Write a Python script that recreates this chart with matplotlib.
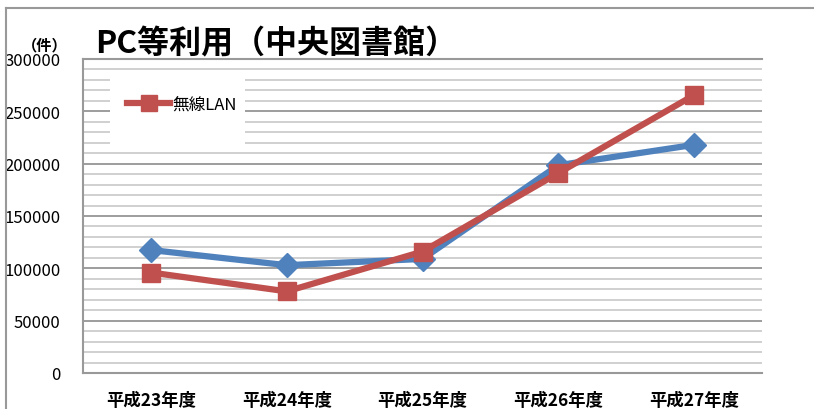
import matplotlib
matplotlib.use("Agg")
import matplotlib.pyplot as plt
from matplotlib.patches import Rectangle
from matplotlib.lines import Line2D
import numpy as np

plt.rcParams['font.family'] = ['Noto Sans CJK JP', 'DejaVu Sans']

categories = ["平成23年度", "平成24年度", "平成25年度", "平成26年度", "平成27年度"]
wireless_lan = [96000, 78000, 116000, 191000, 265500]
other_series = [117500, 103000, 109000, 198500, 218000]
yticks = [0, 50000, 100000, 150000, 200000, 250000, 300000]

red = "#C0504D"
blue = "#4F81BD"

fig = plt.figure(figsize=(8.14, 4.10), dpi=100)
# outer chart frame (left & top visible)
fig.add_artist(Line2D([6/814, 6/814], [0, 1 - 9/410], transform=fig.transFigure, color="#999999", lw=1.5))
fig.add_artist(Line2D([6/814, 1], [1 - 9/410, 1 - 9/410], transform=fig.transFigure, color="#999999", lw=1.5))

ax = fig.add_axes([83/814, 36/410, 679/814, 314/410])
x = np.arange(len(categories))

ax.set_ylim(0, 300000)
ax.set_xlim(-0.5, len(categories) - 0.5)
ax.set_yticks(yticks)
ax.set_yticklabels([str(v) for v in yticks], fontsize=12)
ax.set_yticks(np.arange(0, 300001, 10000), minor=True)
ax.tick_params(axis='y', which='both', length=0, pad=16)
ax.set_xticks(x)
ax.set_xticklabels(categories, fontsize=12.5, fontweight='semibold')
ax.tick_params(axis='x', length=0, pad=13)

ax.grid(axis='y', which='minor', color="#c8c8c8", lw=1.2)
ax.grid(axis='y', which='major', color="#8c8c8c", lw=1.2)
ax.set_axisbelow(True)

for s in ['left', 'bottom', 'top']:
    ax.spines[s].set_color("#999999")
    ax.spines[s].set_linewidth(1.5)
ax.spines['right'].set_visible(False)

# legend background box
ax.add_patch(Rectangle((0.04, 0.72), 0.199, 0.216, transform=ax.transAxes,
                       facecolor="white", edgecolor="none", zorder=1.5))

ax.plot(x, other_series, color=blue, lw=4.5, marker='D', markersize=12, zorder=3)
l1, = ax.plot(x, wireless_lan, color=red, lw=4.5, marker='s', markersize=13, zorder=4,
              label="無線LAN")

ax.legend(handles=[l1], loc='upper left', bbox_to_anchor=(0.055, 0.905), frameon=False,
          fontsize=12, handlelength=2.6, handletextpad=0.1, borderaxespad=0, markerscale=0.85)

fig.text(95/814, 1 - 44/410, "PC等利用（中央図書館）", fontsize=23, fontweight='bold',
         va='center', ha='left')
fig.text(45/814, 1 - 45/410, "（件）", fontsize=11, fontweight='bold', va='center', ha='center')

fig.savefig("out.png", dpi=100)
